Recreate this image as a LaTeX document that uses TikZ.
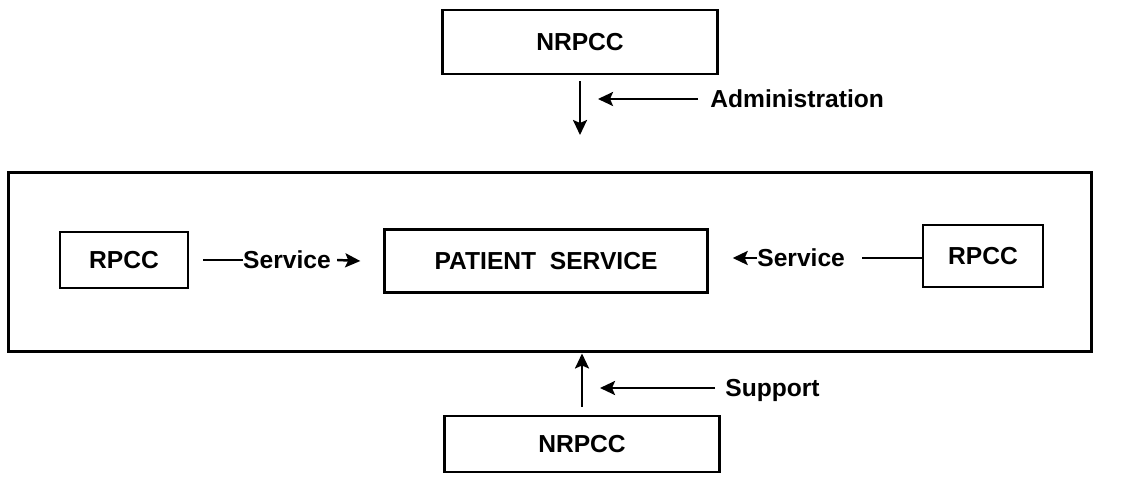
\documentclass[tikz,border=0pt]{standalone}
\usepackage{fontspec}
\setmainfont{Liberation Sans}
\usepackage{tikz}
\usetikzlibrary{arrows.meta, positioning, calc}

\newcommand{\chartfont}{\bfseries\fontsize{14}{16}\selectfont}

\tikzset{
    unitbox/.style={draw=black, line width=1.4pt, inner sep=0pt, font=\chartfont},
    cue/.style={inner sep=0pt, text depth=0pt, font=\chartfont},
    flow/.style={line width=1.4pt, -{Stealth[length=0.3cm, width=0.28cm, inset=0.06cm]}},
    link/.style={line width=1.4pt}
}

\begin{document}
\begin{tikzpicture}[x=0.02cm, y=-0.02cm]
    \useasboundingbox (0,0) rectangle (1145,482);

    % units
    \node[unitbox, minimum width=5.5cm, minimum height=1.28cm] (nrtop) at (580,42) {NRPCC};
    \node[unitbox, line width=1.7pt, minimum width=21.68cm, minimum height=3.6cm] (frame) at (550,262) {};
    \node[unitbox, minimum width=2.56cm, minimum height=1.12cm] (rpccL) at (124,260) {RPCC};
    \node[unitbox, minimum width=6.46cm, minimum height=1.26cm] (patient) at (546,261) {PATIENT\ \ SERVICE};
    \node[unitbox, minimum width=2.4cm, minimum height=1.24cm] (rpccR) at (983,256) {RPCC};
    \node[unitbox, minimum width=5.5cm, minimum height=1.12cm] (nrbot) at (582,444) {NRPCC};

    % labels
    \node[cue, anchor=west] (admin) at (710,99) {Administration};
    \node[cue] (svcL) at (287,260) {Service};
    \node[cue, anchor=west] (svcR) at (757,258) {Service};
    \node[cue, anchor=west] (support) at (725,388) {Support};

    \coordinate (admintip) at (580,135);
    \coordinate (admincue) at (598,99);
    \coordinate (supportcue) at (600,388);

    % administration
    \draw[flow] ([yshift=-0.12cm]nrtop.south) -- (admintip);
    \draw[flow] ([xshift=-0.24cm]admin.west) -- (admincue);

    % service
    \draw[link] ([xshift=0.28cm]rpccL.east) -- (svcL.west);
    \draw[flow] ([xshift=0.12cm]svcL.east) -- ([xshift=-0.46cm]patient.west);
    \draw[flow] (svcR.west) -- ([xshift=0.48cm]patient.east |- svcR.west);
    \draw[link] ([xshift=0.34cm]svcR.east) -- (rpccR.west |- svcR.east);

    % support
    \draw[flow] ([yshift=0.16cm]nrbot.north) -- (nrbot.north |- frame.south);
    \draw[flow] ([xshift=-0.2cm]support.west) -- (supportcue);
\end{tikzpicture}
\end{document}
